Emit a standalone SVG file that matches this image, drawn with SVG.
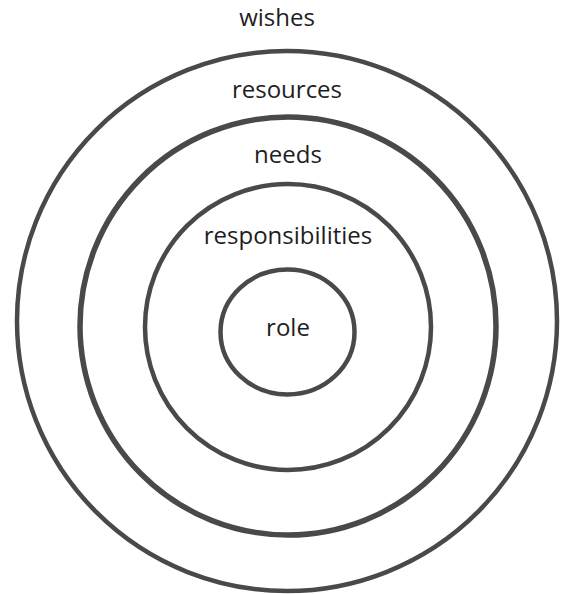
<svg xmlns="http://www.w3.org/2000/svg" width="564" height="594" viewBox="0 0 564 594">
<style>
.ring{fill:none;stroke:#494949;stroke-width:4.5}
.lbl{font-family:"Open Sans","Liberation Sans",sans-serif;font-size:24px;fill:#1e1e1e;text-anchor:middle}
</style>
<rect width="564" height="594" fill="#ffffff"/>
<g id="wishes">
<circle class="ring" cx="287" cy="321" r="270"/>
<text class="lbl" x="277" y="26">wishes</text>
</g>
<g id="resources">
<ellipse class="ring" cx="288" cy="326" rx="208" ry="209" style="stroke-width:5.5"/>
<text class="lbl" x="287" y="98">resources</text>
</g>
<g id="needs">
<circle class="ring" cx="288" cy="327" r="143"/>
<text class="lbl" x="288" y="163">needs</text>
</g>
<g id="responsibilities">
<text class="lbl" x="288" y="244">responsibilities</text>
</g>
<g id="role">
<ellipse class="ring" cx="287.5" cy="332" rx="67" ry="62.5"/>
<text class="lbl" x="288" y="336">role</text>
</g>
</svg>
